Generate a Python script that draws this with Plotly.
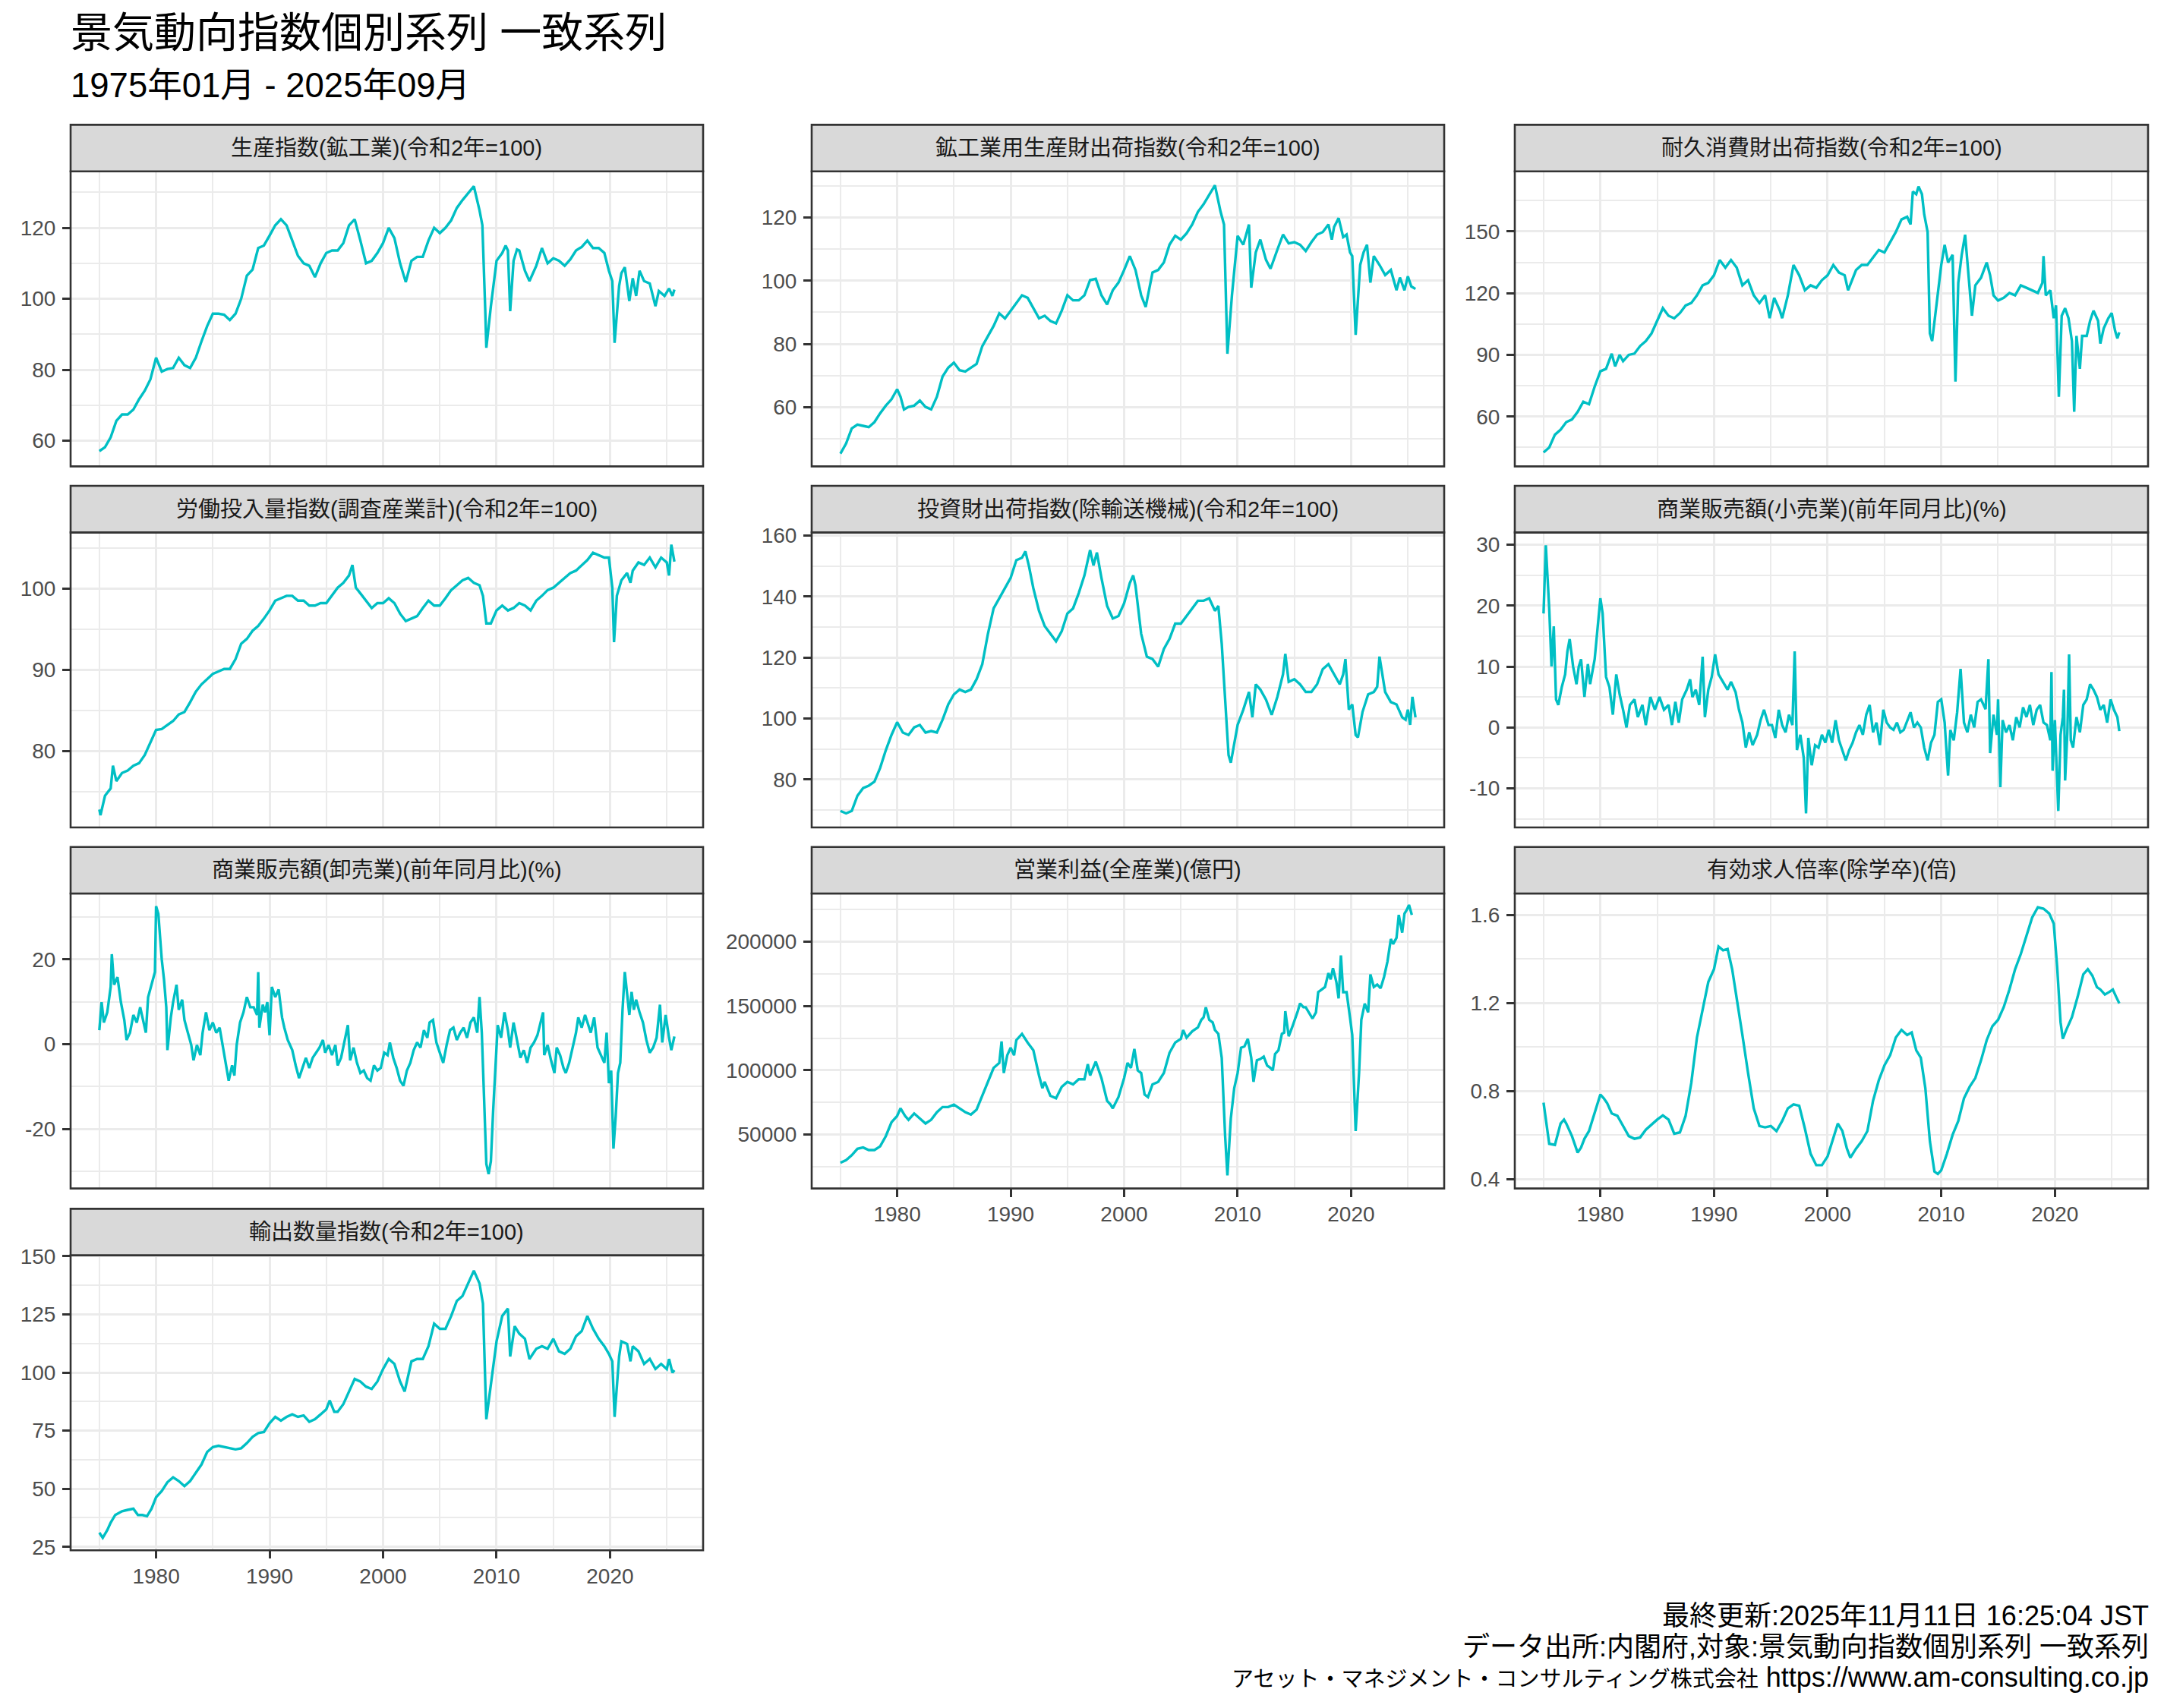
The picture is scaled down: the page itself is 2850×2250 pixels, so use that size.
import plotly.graph_objects as go

# ---------------- data ----------------
years_major = [1980, 1990, 2000, 2010, 2020]
years_major_labels = ["1980", "1990", "2000", "2010", "2020"]
years_minor = [1975, 1985, 1995, 2005, 2015, 2025]

panel_titles = [
    "生産指数(鉱工業)(令和2年=100)",
    "鉱工業用生産財出荷指数(令和2年=100)",
    "耐久消費財出荷指数(令和2年=100)",
    "労働投入量指数(調査産業計)(令和2年=100)",
    "投資財出荷指数(除輸送機械)(令和2年=100)",
    "商業販売額(小売業)(前年同月比)(%)",
    "商業販売額(卸売業)(前年同月比)(%)",
    "営業利益(全産業)(億円)",
    "有効求人倍率(除学卒)(倍)",
    "輸出数量指数(令和2年=100)",
]

prod_t = [1975.0,1975.5,1976.0,1976.5,1977.0,1977.5,1978.0,1978.5,1979.0,1979.5,
          1980.0,1980.5,1981.0,1981.5,1982.0,1982.5,1983.0,1983.5,1984.0,1984.5,
          1985.0,1985.5,1986.0,1986.5,1987.0,1987.5,1988.0,1988.5,1989.0,1989.5,
          1990.0,1990.5,1991.0,1991.5,1992.0,1992.5,1993.0,1993.5,1994.0,1994.5,
          1995.0,1995.5,1996.0,1996.5,1997.0,1997.5,1998.0,1998.5,1999.0,1999.5,
          2000.0,2000.5,2001.0,2001.5,2002.0,2002.5,2003.0,2003.5,2004.0,2004.5,
          2005.0,2005.5,2006.0,2006.5,2007.0,2007.5,2008.0,2008.5,
          2008.75,2009.0,2009.1,2009.5,
          2010.0,2010.5,2010.8,2011.0,2011.2,2011.5,2011.8,
          2012.0,2012.5,2012.9,2013.5,
          2014.0,2014.5,2015.0,2015.5,2016.0,2016.5,2017.0,2017.5,2018.0,2018.5,2019.0,2019.5,
          2019.9,2020.2,2020.4,2020.8,
          2021.0,2021.3,2021.7,2022.0,2022.3,2022.6,
          2023.0,2023.5,2024.0,2024.3,2024.8,2025.2,2025.5,2025.67]
prod_v = [57.1,58.2,61,65.6,67.4,67.4,68.8,71.7,74.1,77.3,
          83.4,79.5,80.2,80.5,83.4,81.3,80.5,83.4,88,92.3,
          95.8,95.8,95.5,94,95.8,100,106.5,108.2,114.3,115,
          117.8,120.7,122.4,120.7,116.4,112.1,110,109.3,106.1,110,
          112.9,113.6,113.6,115.7,120.7,122.4,116.4,110,110.7,112.9,
          115.7,120,117.1,110,104.7,110.7,111.8,111.8,116.4,120,
          118.5,120,122.1,125.6,127.8,129.9,131.7,124.9,
          120.7,97.2,86.2,97.9,
          110.7,112.9,115,113.6,96.5,110.7,113.9,
          113.6,107.9,105,109.3,
          114.3,110,111.4,110.7,109.3,111.1,113.6,114.6,116.4,114.3,114.3,112.9,
          107.9,105,87.6,103.6,
          107.2,108.9,99.4,105.8,100.8,107.9,
          105,104.3,97.9,102.2,100.8,102.9,100.8,102.6]

mat_t = [1975.0,1975.5,1976.0,1976.5,1977.0,1977.5,1978.0,1978.5,1979.0,1979.5,
         1980.0,1980.3,1980.6,1981.0,1981.5,1982.0,1982.5,1983.0,1983.5,1984.0,1984.5,
         1985.0,1985.5,1986.0,1986.5,1987.0,1987.5,1988.0,1988.5,1989.0,1989.5,
         1990.0,1990.5,1991.0,1991.5,1992.0,1992.5,1993.0,1993.5,1994.0,1994.5,
         1995.0,1995.5,1996.0,1996.5,1997.0,1997.5,1998.0,1998.5,1999.0,1999.5,
         2000.0,2000.5,2001.0,2001.5,2001.9,2002.5,2003.0,2003.5,2004.0,2004.5,
         2005.0,2005.5,2006.0,2006.5,2007.0,2007.5,2008.0,2008.5,2008.8,2009.1,2009.5,
         2010.0,2010.5,2011.0,2011.2,2011.6,2012.0,2012.5,2012.9,2013.5,2014.0,2014.5,
         2015.0,2015.5,2016.0,2016.5,2017.0,2017.5,2018.0,2018.3,2018.5,2018.9,2019.3,2019.6,2019.9,
         2020.1,2020.4,2020.8,2021.1,2021.4,2021.7,2022.0,2022.5,2023.0,2023.5,2024.0,2024.3,2024.7,
         2025.0,2025.3,2025.67]
mat_v = [45.3,48.5,53.3,54.5,54.1,53.7,55.3,58.1,60.5,62.5,
         65.7,63.3,59.3,60.1,60.5,62.1,60.1,59.3,63.3,69.7,72.5,
         74.1,71.7,71.3,72.5,73.7,79.3,82.5,85.7,89.7,88.1,
         90.5,92.9,95.4,94.6,91.3,88.1,88.9,87.3,86.5,90.5,
         95.4,93.8,93.8,95.4,100.2,100.6,95.4,92.5,97,99.4,
         103.4,107.8,103.4,95.4,91.7,102.6,103.4,105.8,111.4,114.2,
         113,115,117.8,121.8,124.2,127.4,130.2,121.8,117.8,76.9,95.4,
         114.2,111.4,117.8,97.8,109,113,106.6,103.8,109.8,114.6,111.8,
         112.2,111.4,109.4,112.2,114.6,115.4,117.8,113,117,119.8,113.8,114.6,109,
         107.8,82.9,105,109,111.4,99.4,107.8,105,101.8,103.4,97,101,97,
         101.4,98.2,97.4]

dur_t = [1975.0,1975.5,1976.0,1976.5,1977.0,1977.5,1978.0,1978.5,1979.0,1979.5,
         1980.0,1980.5,1981.0,1981.3,1981.7,1982.0,1982.5,1983.0,1983.5,1984.0,1984.5,
         1985.0,1985.5,1986.0,1986.5,1987.0,1987.5,1988.0,1988.5,1989.0,1989.5,
         1990.0,1990.5,1991.0,1991.5,1992.0,1992.5,1993.0,1993.5,1994.0,1994.5,1994.9,
         1995.3,1995.8,1996.0,1996.5,1997.0,1997.5,1998.0,1998.5,1999.0,1999.5,
         2000.0,2000.5,2001.0,2001.5,2001.8,2002.5,2003.0,2003.5,2004.0,2004.5,
         2005.0,2005.5,2006.0,2006.5,2007.0,2007.3,2007.5,2007.8,2008.0,2008.3,2008.5,2008.8,
         2009.0,2009.2,2009.5,2010.0,2010.3,2010.6,2011.0,2011.25,2011.5,2011.8,
         2012.1,2012.4,2012.7,2013.0,2013.5,2014.0,2014.3,2014.6,
         2015.0,2015.5,2016.0,2016.5,2017.0,2017.5,2018.0,2018.5,2018.9,2019.0,2019.2,2019.6,2019.9,
         2020.1,2020.35,2020.6,2020.9,2021.2,2021.5,2021.7,2021.9,2022.2,2022.4,2022.8,
         2023.1,2023.4,2023.8,2024.0,2024.3,2024.7,2025.0,2025.3,2025.5,2025.67]
dur_v = [42.6,45,51.2,53.6,57.3,58.6,62.3,67.2,66,74.6,
         82,83.2,90.6,84.4,90,86.9,90,90.6,94.3,96.7,100.4,
         106.6,112.7,109,107.8,110.3,114,115.2,118.9,123.8,125,
         128.7,136.1,132.4,136.1,132.4,123.8,126.3,118.9,115.2,118.9,107.8,
         117.7,111.5,107.8,118.9,133.7,128.7,121.4,123.8,122.6,126.3,
         128.7,133.7,130,128.7,121.4,131.2,133.7,133.7,137.4,141,
         139.8,144.7,149.7,155.8,157.1,153.4,169.4,168.1,171.8,168.1,158.3,149.7,
         100.4,96.7,111.5,133.7,143.5,134.9,138.6,77,125,138.6,
         148.4,128.7,109,123.8,127.5,134.9,128.7,118.9,
         116.4,117.7,120.1,118.9,123.8,122.6,121.4,120.1,125,138,118.9,121.4,107.8,
         114,69.6,109,112.7,107.8,96.7,62.3,99.2,83.2,99.2,99.2,
         106.6,111.5,106.6,95.5,102.9,107.8,110.3,101.7,98,101]

lab_t = [1975.0,1975.1,1975.5,1976.0,1976.2,1976.5,1977.0,1977.5,1978.0,1978.5,1979.0,1979.5,
         1980.0,1980.5,1981.0,1981.5,1982.0,1982.5,1983.0,1983.5,1984.0,1984.5,
         1985.0,1985.5,1986.0,1986.5,1987.0,1987.5,1988.0,1988.5,1989.0,1989.5,
         1990.0,1990.5,1991.0,1991.5,1992.0,1992.5,1993.0,1993.5,1994.0,1994.5,
         1995.0,1995.5,1996.0,1996.5,1997.0,1997.3,1997.6,1998.0,1998.5,1999.0,1999.5,
         2000.0,2000.5,2001.0,2001.5,2002.0,2002.5,2003.0,2003.5,2004.0,2004.5,
         2005.0,2005.5,2006.0,2006.5,2007.0,2007.5,2008.0,2008.5,2008.8,2009.1,2009.5,
         2010.0,2010.5,2011.0,2011.5,2012.0,2012.5,2013.0,2013.5,2014.0,2014.5,
         2015.0,2015.5,2016.0,2016.5,2017.0,2017.5,2018.0,2018.5,2019.0,2019.5,2019.9,
         2020.2,2020.35,2020.6,2021.0,2021.5,2021.8,2022.0,2022.5,2023.0,2023.5,2024.0,2024.5,
         2025.0,2025.2,2025.4,2025.67]
lab_v = [72.8,72.1,74.5,75.4,78.2,76.3,77.3,77.6,78.2,78.5,79.5,81,
         82.6,82.7,83.2,83.7,84.5,84.8,86,87.3,88.2,88.8,
         89.5,89.8,90.1,90.1,91.3,93.2,93.8,94.8,95.4,96.3,
         97.3,98.5,98.8,99.1,99.1,98.5,98.5,97.9,97.9,98.2,
         98.2,99.1,100.1,100.7,101.6,102.9,100.1,99.4,98.5,97.6,98.2,
         98.2,98.8,98.2,96.9,96,96.3,96.6,97.6,98.5,97.9,
         97.9,98.8,99.8,100.4,101,101.3,100.7,100.4,99.1,95.7,95.7,
         97.3,97.9,97.3,97.6,98.2,97.9,97.3,98.5,99.1,99.8,
         100.1,100.7,101.3,101.9,102.2,102.9,103.5,104.4,104.1,103.8,103.8,
         100.1,93.4,99.1,101,101.9,100.7,102.2,103.2,102.9,103.8,102.6,103.8,
         103.2,101.6,105.4,103.3]

inv_t = [1975.0,1975.5,1976.0,1976.5,1977.0,1977.5,1978.0,1978.5,1979.0,1979.5,
         1980.0,1980.5,1981.0,1981.5,1982.0,1982.5,1983.0,1983.5,1984.0,1984.5,
         1985.0,1985.5,1986.0,1986.5,1987.0,1987.5,1988.0,1988.5,1989.0,1989.5,
         1990.0,1990.5,1991.0,1991.3,1991.6,1992.0,1992.5,1993.0,1993.5,1994.0,1994.5,
         1995.0,1995.5,1996.0,1996.5,1997.0,1997.3,1997.6,1998.0,1998.5,1999.0,1999.5,
         2000.0,2000.5,2000.8,2001.0,2001.5,2002.0,2002.5,2003.0,2003.5,2004.0,2004.5,
         2005.0,2005.5,2006.0,2006.5,2007.0,2007.5,2008.0,2008.3,2008.6,2009.0,2009.2,2009.4,2009.7,
         2010.0,2010.5,2011.0,2011.3,2011.6,2012.0,2012.5,2013.0,2013.5,2014.0,2014.2,2014.5,
         2015.0,2015.5,2016.0,2016.5,2017.0,2017.5,2018.0,2018.5,2019.0,2019.3,2019.5,2019.8,
         2020.1,2020.4,2020.6,2021.0,2021.5,2022.0,2022.3,2022.5,2022.8,2023.0,2023.5,2024.0,2024.5,2024.8,
         2025.0,2025.2,2025.4,2025.67]
inv_v = [69.7,68.9,69.7,74.7,77.2,78,79.3,83.8,89.6,94.6,
         98.8,95.4,94.6,97.1,97.9,95.4,95.9,95.4,99.6,104.6,
         107.9,109.5,108.7,109.5,112.9,117.8,127.8,136.1,139.4,142.7,
         146.1,151.9,152.7,154.8,150.2,142.7,135.3,130.3,127.8,125.3,128.6,
         134.4,136.1,141.1,146.9,155.2,150.2,154.4,146.1,136.9,132.8,133.6,
         137.8,144.4,146.9,143.6,127.8,120.3,119.5,117,122.8,126.1,131.1,
         131.1,133.6,136.1,138.6,138.6,139.4,135.3,136.9,124.5,97.9,88,85.5,91.3,
         97.9,102.9,108.7,100.4,111.2,109.5,106.2,101.2,107.1,114.5,121.2,112,
         112.9,111.2,108.7,108.7,111.2,116.2,117.8,114.5,111.2,114.5,119.5,102.9,
         104.6,94.6,93.8,102.1,107.9,108.7,110.4,120.3,112.9,108.7,105.4,104.6,100.4,99.6,
         102.9,97.9,107.1,100.4]

ret_t = [1975.0,1975.2,1975.5,1975.7,1975.9,1976.1,1976.3,1976.6,1976.9,1977.1,1977.3,1977.6,1977.9,
         1978.1,1978.3,1978.6,1978.9,1979.1,1979.5,1979.7,
         1980.0,1980.2,1980.5,1980.8,1981.1,1981.4,1981.7,1982.0,1982.3,1982.6,1983.0,1983.3,1983.7,
         1984.0,1984.4,1984.8,
         1985.2,1985.6,1986.0,1986.3,1986.6,1986.9,1987.2,1987.6,1987.9,1988.1,1988.4,1988.7,1989.0,
         1989.2,1989.5,1989.8,
         1990.1,1990.4,1990.8,1991.2,1991.5,1991.9,1992.2,1992.5,1992.8,1993.1,1993.4,1993.8,1994.1,
         1994.4,1994.8,
         1995.1,1995.4,1995.7,1996.0,1996.3,1996.6,1996.9,1997.1,1997.3,1997.6,1997.9,1998.1,1998.3,
         1998.6,1998.9,1999.2,1999.5,1999.8,
         2000.1,2000.4,2000.7,2001.0,2001.3,2001.6,2001.9,2002.2,2002.5,2002.8,2003.1,2003.4,2003.7,
         2004.0,2004.3,2004.6,2004.9,
         2005.2,2005.5,2005.8,2006.1,2006.4,2006.7,2007.0,2007.3,2007.6,2007.9,2008.2,2008.5,2008.8,
         2009.1,2009.4,2009.7,
         2010.0,2010.3,2010.6,2010.8,2011.1,2011.4,2011.7,2012.0,2012.3,2012.6,2012.9,2013.2,2013.5,
         2013.9,2014.15,2014.3,2014.6,2014.9,
         2015.0,2015.2,2015.4,2015.7,2016.0,2016.3,2016.6,2016.9,2017.2,2017.5,2017.8,2018.1,2018.4,
         2018.7,2019.0,2019.3,2019.6,2019.7,2019.8,
         2020.0,2020.3,2020.5,2020.7,2020.8,2020.9,2021.1,2021.25,2021.4,2021.6,2021.9,2022.2,2022.5,
         2022.8,2023.1,2023.4,2023.7,2024.0,2024.3,2024.6,2024.9,2025.2,2025.5,2025.67]
ret_v = [18.7,29.9,19.5,10,16.6,4.6,3.7,6.6,8.7,12.5,14.5,10,7.1,
         10,11.2,5,10.4,7.1,11.2,15.4,
         21.2,18.7,8.3,6.6,2.1,8.7,5.4,2.9,0,3.7,4.6,1.7,3.7,
         0.4,5,2.9,
         5,2.9,3.7,0.4,4.2,0.8,4.6,6.2,7.9,5,6.2,3.7,11.6,
         1.7,6.2,8.3,
         12,8.7,7.5,6.2,7.5,5.8,2.9,0.8,-3.3,-0.8,-2.9,-1.2,1.2,
         2.9,0.4,
         0.4,-1.7,2.9,0.4,-0.8,2.1,0.4,12.5,-3.7,-1.2,-5,-14.1,-1.7,
         -6.2,-2.9,-3.3,-1.2,-2.5,
         -0.4,-2.5,1.2,-2.1,-3.7,-5.4,-3.7,-2.5,-0.8,0.4,-1.2,2.1,3.7,
         -0.8,0.8,-2.9,2.9,
         0.8,0,-0.4,0.8,-0.8,-0.4,1.2,2.5,0,0.8,0,-3.3,-5.4,
         -2.5,-1.2,4.2,
         4.6,0.8,-7.9,-0.4,-2.1,2.5,9.6,0.8,-0.8,2.1,0,4.2,4.6,
         3.0,11.2,-4.2,2.1,-1.2,
         4.6,-9.8,1.2,-0.8,0.4,-2.1,1.7,0,3.3,1.7,3.7,0.4,2.9,
         3.7,0.8,0.4,-2.1,9.1,-7.1,
         1.2,-13.7,-1.2,1.7,6.2,-8.7,-0.8,12,-2.1,-3.3,1.7,-0.8,3.7,
         4.6,7.1,6.2,5,2.9,3.7,0.8,4.6,2.9,1.7,-0.6]

whl_t = [1975.0,1975.2,1975.4,1975.7,1976.0,1976.1,1976.3,1976.6,1976.9,1977.2,1977.4,1977.7,1978.0,
         1978.3,1978.6,1978.9,1979.1,1979.3,1979.6,1979.9,
         1980.0,1980.2,1980.5,1980.7,1980.9,1981.0,1981.3,1981.5,1981.8,1982.0,1982.3,1982.5,1982.8,
         1983.1,1983.3,1983.6,1983.9,1984.1,1984.4,1984.7,
         1985.0,1985.3,1985.6,1985.9,1986.2,1986.4,1986.7,1986.9,1987.1,1987.4,1987.7,1988.0,1988.3,
         1988.6,1988.9,1989.0,1989.1,1989.4,1989.6,1989.8,
         1990.0,1990.2,1990.5,1990.8,1991.1,1991.3,1991.6,1992.0,1992.3,1992.6,1992.9,1993.2,1993.5,
         1993.8,1994.1,1994.4,1994.7,1994.9,
         1995.2,1995.5,1995.8,1996.0,1996.3,1996.6,1996.9,1997.1,1997.4,1997.7,1998.0,1998.3,1998.6,
         1998.9,1999.2,1999.5,1999.8,
         2000.1,2000.4,2000.6,2000.9,2001.2,2001.5,2001.8,2002.1,2002.4,2002.7,2003.0,2003.3,2003.6,
         2003.9,2004.1,2004.4,2004.7,
         2005.0,2005.3,2005.6,2005.9,2006.2,2006.5,2006.8,2007.1,2007.4,2007.7,2008.0,2008.3,2008.5,
         2008.7,2008.9,2009.1,2009.3,2009.5,2009.7,2009.9,
         2010.1,2010.4,2010.7,2011.0,2011.2,2011.5,2011.8,2012.1,2012.4,2012.7,2013.0,2013.3,2013.6,
         2013.9,2014.1,2014.2,2014.5,2014.8,
         2015.1,2015.3,2015.6,2015.9,2016.1,2016.4,2016.7,2017.0,2017.2,2017.5,2017.8,2018.0,2018.3,
         2018.6,2018.9,2019.2,2019.5,2019.7,2019.9,
         2020.1,2020.3,2020.5,2020.7,2020.9,2021.1,2021.3,2021.5,2021.7,2021.9,2022.1,2022.3,2022.6,
         2022.9,2023.2,2023.5,2023.8,2024.1,2024.4,2024.6,2024.9,2025.2,2025.4,2025.67]
whl_v = [3.3,9.9,5.1,7.5,13.5,21.2,14,15.8,9.9,5.7,1,2.7,6.9,
         5.1,8.7,5.1,2.7,11.1,14,17,
         32.5,30.7,20,15.2,8.7,-1.4,6.3,9.9,14,8.1,10.5,5.7,2.7,
         -0.2,-3.8,-0.2,-2.6,2.7,7.5,3.3,
         5.1,2.7,3.9,-0.8,-5,-8.6,-5,-7.4,-0.2,5.1,7.5,11.1,8.7,
         8.7,6.9,17,3.9,9.3,7.5,9.9,
         2.1,13.5,11.1,12.9,6.3,3.9,1,-1.4,-5,-8,-5.6,-3.2,-5.6,
         -3.2,-2,-0.8,1,-2,
         -0.2,-2.6,-0.2,-5,-3.2,0.4,4.5,-3.8,-0.8,-4.4,-6.8,-6.2,-8,
         -8.6,-5,-6.2,-5.6,
         -2,-2.6,0.4,-3.2,-5.6,-8.6,-9.8,-6.2,-4.4,-1.4,0.4,-0.8,3.3,
         1.5,5.1,5.7,0.4,
         -2,-4.4,-0.2,3.3,3.9,1,2.7,3.9,1.5,5.1,6.3,2.7,11.1,
         2.7,-12.7,-28.2,-30.6,-27.6,-15.7,-4.4,
         4.5,1.5,7.5,3.3,-0.8,5.1,1,-3.2,-1.4,-4.4,-0.8,0.4,2.1,
         5.1,7.5,-2.6,-0.2,-3.8,
         -6.8,-0.8,-2.6,-5.6,-6.8,-4.4,-0.8,2.7,6.3,3.9,6.9,5.1,2.7,
         6.3,-0.8,-2.6,-4.4,2.7,-9.2,
         -6.2,-24.6,-16.9,-6.8,-4.4,8.1,17,11.7,6.9,12.3,8.1,10.5,7.5,
         5.1,1,-2,-0.8,1.5,9.3,0.4,6.9,1.5,-1.4,1.8]

opi_t = [1975.0,1975.5,1976.0,1976.5,1977.0,1977.5,1978.0,1978.5,1979.0,1979.5,
         1980.0,1980.3,1980.7,1981.0,1981.5,1982.0,1982.5,1983.0,1983.5,1984.0,1984.5,
         1985.0,1985.5,1986.0,1986.5,1987.0,1987.5,1988.0,1988.5,1989.0,1989.2,1989.4,1989.7,
         1990.0,1990.3,1990.5,1991.0,1991.5,1992.0,1992.5,1992.8,1993.0,1993.5,1994.0,1994.5,
         1995.0,1995.5,1996.0,1996.5,1996.8,1997.0,1997.5,1998.0,1998.5,1998.8,1999.0,1999.5,
         2000.0,2000.3,2000.6,2000.9,2001.2,2001.5,2001.8,2002.1,2002.5,2003.0,2003.5,2004.0,2004.5,
         2005.0,2005.2,2005.5,2006.0,2006.5,2006.8,2007.0,2007.2,2007.5,2007.8,2008.0,2008.3,2008.6,
         2008.9,2009.1,2009.4,2009.7,
         2010.0,2010.3,2010.6,2010.9,2011.2,2011.4,2011.7,2012.0,2012.3,2012.6,2012.9,2013.1,2013.3,
         2013.6,2013.9,2014.1,2014.2,2014.5,2014.8,
         2015.0,2015.3,2015.5,2015.8,2016.0,2016.3,2016.6,2016.9,2017.1,2017.4,2017.7,2018.0,2018.2,
         2018.4,2018.7,2018.9,2019.1,2019.3,2019.6,2019.9,
         2020.1,2020.4,2020.7,2020.9,2021.2,2021.5,2021.7,2022.0,2022.3,2022.6,2022.9,2023.2,2023.5,
         2023.7,2024.0,2024.2,2024.5,2024.7,2024.9,2025.1,2025.35]
opi_v = [27950,29900,33800,38800,39800,37800,37800,40700,48600,59400,
         64400,70300,64400,61400,66300,62400,58500,61400,67300,71300,71300,
         73200,70300,67300,65400,69300,80100,90900,101800,105700,122400,97800,111600,
         117500,111600,123400,128300,121500,115600,95900,86000,90900,80100,78100,87000,
         90900,89000,92900,92900,104700,95900,106700,93900,76200,73200,70300,79100,
         93900,105700,101800,116500,99800,97800,81100,79100,89000,90900,97800,113600,121500,
         124400,131300,125400,130300,133300,139200,141100,149000,139200,137200,131300,128300,109600,
         48600,18100,62400,86000,
         97800,117500,118500,124400,109600,90900,107700,108700,110600,103700,101800,99800,112600,
         115600,128300,129300,146000,126400,133300,
         138200,146000,152000,149000,149000,145000,140200,145000,160800,162800,164800,175600,170700,
         179500,168700,155900,189400,160800,160800,141100,
         127400,52600,97800,139200,151900,145000,174600,164800,166700,163800,172600,184500,202200,
         198200,203100,220900,207100,221900,224800,228700,220900]

job_t = [1975.0,1975.2,1975.5,1976.0,1976.5,1976.8,1977.0,1977.5,1978.0,1978.3,1978.6,1979.0,1979.5,
         1980.0,1980.3,1980.6,1981.0,1981.5,1982.0,1982.5,1983.0,1983.5,1984.0,1984.5,
         1985.0,1985.5,1986.0,1986.5,1987.0,1987.5,1988.0,1988.5,1989.0,1989.5,
         1990.0,1990.4,1990.8,1991.2,1991.6,1992.0,1992.5,1993.0,1993.5,1994.0,1994.5,
         1995.0,1995.5,1996.0,1996.5,1997.0,1997.5,1998.0,1998.5,1999.0,1999.5,
         2000.0,2000.5,2000.9,2001.3,2001.7,2002.0,2002.5,2003.0,2003.5,2004.0,2004.5,
         2005.0,2005.5,2006.0,2006.5,2007.0,2007.4,2007.8,2008.2,2008.6,2009.0,2009.4,2009.7,
         2010.0,2010.5,2011.0,2011.5,2012.0,2012.5,2013.0,2013.5,2014.0,2014.5,
         2015.0,2015.5,2016.0,2016.5,2017.0,2017.5,2018.0,2018.5,2019.0,2019.5,2019.9,
         2020.2,2020.5,2020.7,2021.0,2021.5,2022.0,2022.5,2022.9,2023.3,2023.7,2024.0,2024.4,2024.8,
         2025.1,2025.4,2025.67]
job_v = [0.748,0.665,0.561,0.556,0.653,0.671,0.653,0.596,0.521,0.544,0.584,0.619,0.699,
         0.785,0.768,0.745,0.699,0.688,0.642,0.596,0.584,0.590,0.625,0.648,
         0.671,0.690,0.671,0.607,0.613,0.688,0.837,1.044,1.170,1.296,
         1.354,1.457,1.440,1.446,1.354,1.228,1.055,0.883,0.722,0.642,0.636,
         0.642,0.619,0.665,0.722,0.740,0.734,0.630,0.516,0.464,0.464,
         0.504,0.584,0.653,0.619,0.539,0.498,0.539,0.573,0.619,0.757,0.849,
         0.917,0.963,1.044,1.078,1.055,1.067,0.986,0.952,0.814,0.573,0.435,0.424,
         0.441,0.516,0.602,0.665,0.768,0.820,0.860,0.940,1.032,1.095,
         1.124,1.182,1.262,1.354,1.423,1.503,1.589,1.635,1.629,1.607,1.561,
         1.365,1.113,1.038,1.078,1.136,1.228,1.331,1.354,1.325,1.273,1.262,1.239,1.251,
         1.262,1.228,1.199]

exp_t = [1975.0,1975.3,1975.7,1976.0,1976.4,1977.0,1977.5,1978.0,1978.4,1978.8,1979.2,1979.6,
         1980.0,1980.5,1981.0,1981.5,1982.0,1982.5,1983.0,1983.5,1984.0,1984.5,
         1985.0,1985.5,1986.0,1986.5,1987.0,1987.5,1988.0,1988.5,1989.0,1989.5,
         1990.0,1990.5,1991.0,1991.5,1992.0,1992.5,1993.0,1993.5,1994.0,1994.5,
         1995.0,1995.3,1995.7,1996.0,1996.5,1997.0,1997.5,1998.0,1998.5,1999.0,1999.5,
         2000.0,2000.5,2001.0,2001.5,2001.9,2002.5,2003.0,2003.5,2004.0,2004.5,
         2005.0,2005.5,2006.0,2006.5,2007.0,2007.5,2008.0,2008.5,2008.8,2009.1,2009.5,
         2010.0,2010.5,2011.0,2011.2,2011.6,2012.0,2012.5,2012.9,2013.5,2014.0,2014.5,
         2015.0,2015.5,2016.0,2016.5,2017.0,2017.5,2018.0,2018.5,2019.0,2019.5,2019.9,
         2020.2,2020.4,2020.8,2021.0,2021.5,2021.8,2022.0,2022.5,2023.0,2023.5,2024.0,2024.5,
         2025.0,2025.2,2025.5,2025.67]
exp_v = [31.1,28.9,32.2,35.4,38.7,40.3,40.9,41.4,38.7,38.7,38.2,41.4,
         46.3,49,52.8,54.9,53.3,51.1,53.3,57.1,60.4,65.8,
         67.9,68.5,67.9,67.4,66.9,67.4,69.6,72.3,73.9,74.4,
         78.2,80.9,79.3,80.9,82,80.9,81.5,78.8,79.9,82,
         84.2,88,83.1,83.1,86.4,91.8,97.2,96.1,93.9,92.9,96.1,
         101.5,105.8,103.7,96.1,91.8,104.8,105.8,105.8,111.3,121,
         118.8,118.8,124.3,130.8,132.9,138.3,143.8,138.3,129.7,79.9,95,
         113.4,124.3,127.5,106.9,119.9,116.7,114.5,105.8,110.2,111.3,110.2,
         114.5,109.1,108,110.2,115.6,117.8,124.3,118.8,114.5,111.3,108,
         104.8,80.9,106.9,113.4,112.3,104.8,111.3,109.1,103.7,105.8,101.5,103.7,
         101.5,105.8,99.9,101]

# y tick values / labels per panel
prod_ticks, prod_labels, prod_minor = [60, 80, 100, 120], ["60", "80", "100", "120"], [70, 90, 110, 130]
mat_ticks, mat_labels, mat_minor = [60, 80, 100, 120], ["60", "80", "100", "120"], [50, 70, 90, 110, 130]
dur_ticks, dur_labels, dur_minor = [60, 90, 120, 150], ["60", "90", "120", "150"], [45, 75, 105, 135, 165]
lab_ticks, lab_labels, lab_minor = [80, 90, 100], ["80", "90", "100"], [75, 85, 95, 105]
inv_ticks, inv_labels, inv_minor = [80, 100, 120, 140, 160], ["80", "100", "120", "140", "160"], [70, 90, 110, 130, 150]
ret_ticks, ret_labels, ret_minor = [-10, 0, 10, 20, 30], ["-10", "0", "10", "20", "30"], [-15, -5, 5, 15, 25]
whl_ticks, whl_labels, whl_minor = [-20, 0, 20], ["-20", "0", "20"], [-30, -10, 10, 30]
opi_ticks = [50000, 100000, 150000, 200000]
opi_labels = ["50000", "100000", "150000", "200000"]
opi_minor = [25000, 75000, 125000, 175000, 225000]
job_ticks, job_labels, job_minor = [0.4, 0.8, 1.2, 1.6], ["0.4", "0.8", "1.2", "1.6"], [0.6, 1.0, 1.4]
exp_ticks, exp_labels, exp_minor = [25, 50, 75, 100, 125, 150], ["25", "50", "75", "100", "125", "150"], [37.5, 62.5, 87.5, 112.5, 137.5]

title_text = "景気動向指数個別系列 一致系列"
subtitle_text = "1975年01月 - 2025年09月"
caption_line1 = "最終更新:2025年11月11日 16:25:04 JST"
caption_line2 = "データ出所:内閣府,対象:景気動向指数個別系列 一致系列"
caption_line3_company = "アセット・マネジメント・コンサルティング株式会社"
caption_line3_url = "https://www.am-consulting.co.jp"

# ---------------- layout / styling ----------------
W, H = 2850, 2250
FONT = "Liberation Sans, Noto Sans CJK JP, sans-serif"
LINE_COLOR = "#00BFC4"
GRID = "#EBEBEB"
DARK = "#333333"
AXIS_TXT = "#4D4D4D"

COL_PX = [(85, 918), (1061, 1894), (1987, 2821)]
STRIP_TOPS = [144, 625, 1106, 1588]
STRIP_PX = 62
PLOT_PX = 393
X_RANGE = [1972.47, 2028.2]

series = [
    (prod_t, prod_v, [52.8, 135.9], prod_ticks, prod_labels, prod_minor, 0, 0, False),
    (mat_t, mat_v, [41.3, 134.6], mat_ticks, mat_labels, mat_minor, 0, 1, False),
    (dur_t, dur_v, [35.8, 179.2], dur_ticks, dur_labels, dur_minor, 0, 2, False),
    (lab_t, lab_v, [70.6, 106.9], lab_ticks, lab_labels, lab_minor, 1, 0, False),
    (inv_t, inv_v, [64.3, 161.0], inv_ticks, inv_labels, inv_minor, 1, 1, False),
    (ret_t, ret_v, [-16.4, 32.0], ret_ticks, ret_labels, ret_minor, 1, 2, False),
    (whl_t, whl_v, [-34.0, 35.5], whl_ticks, whl_labels, whl_minor, 2, 0, False),
    (opi_t, opi_v, [7870, 237600], opi_ticks, opi_labels, opi_minor, 2, 1, True),
    (job_t, job_v, [0.358, 1.698], job_ticks, job_labels, job_minor, 2, 2, True),
    (exp_t, exp_v, [23.5, 150.4], exp_ticks, exp_labels, exp_minor, 3, 0, True),
]


def fx(px):
    return px / W


def fy(py):
    return 1 - py / H


fig = go.Figure()
shapes = []
annotations = []

for i, (t, v, yr, yt, yl, ym, r, c, showx) in enumerate(series):
    assert len(t) == len(v), (i, len(t), len(v))
    n = i + 1
    sfx = "" if n == 1 else str(n)
    x0, x1 = COL_PX[c]
    s0 = STRIP_TOPS[r]
    y0 = s0 + STRIP_PX
    y1 = y0 + PLOT_PX
    fig.add_trace(go.Scatter(
        x=t, y=v, mode="lines",
        line=dict(color=LINE_COLOR, width=3.4),
        xaxis="x" + sfx, yaxis="y" + sfx, showlegend=False, hoverinfo="skip"))
    fig.layout["xaxis" + sfx] = dict(
        domain=[fx(x0), fx(x1)], anchor="y" + sfx, range=X_RANGE,
        tickmode="array", tickvals=years_major, ticktext=years_major_labels,
        showgrid=True, gridcolor=GRID, gridwidth=3.2,
        minor=dict(tickmode="array", tickvals=years_minor, showgrid=True,
                   gridcolor=GRID, gridwidth=1.6, ticks=""),
        ticks="outside" if showx else "", ticklen=10, tickwidth=3, tickcolor=DARK,
        showticklabels=showx, ticklabelstandoff=-1,
        tickfont=dict(family=FONT, size=28, color=AXIS_TXT),
        zeroline=False, showline=False, fixedrange=True)
    fig.layout["yaxis" + sfx] = dict(
        domain=[fy(y1), fy(y0)], anchor="x" + sfx, range=yr,
        tickmode="array", tickvals=yt, ticktext=yl,
        showgrid=True, gridcolor=GRID, gridwidth=3.2,
        minor=dict(tickmode="array", tickvals=ym, showgrid=True,
                   gridcolor=GRID, gridwidth=1.6, ticks=""),
        ticks="outside", ticklen=10, tickwidth=3, tickcolor=DARK,
        ticklabelstandoff=3,
        tickfont=dict(family=FONT, size=28, color=AXIS_TXT),
        zeroline=False, showline=False, fixedrange=True)
    # panel border
    shapes.append(dict(type="rect", xref="paper", yref="paper",
                       x0=fx(x0), x1=fx(x1), y0=fy(y1), y1=fy(y0),
                       line=dict(color=DARK, width=2.6), fillcolor="rgba(0,0,0,0)",
                       layer="above"))
    # strip
    shapes.append(dict(type="rect", xref="paper", yref="paper",
                       x0=fx(x0), x1=fx(x1), y0=fy(y0), y1=fy(s0),
                       line=dict(color=DARK, width=2.6), fillcolor="#D9D9D9",
                       layer="above"))
    annotations.append(dict(text=panel_titles[i], xref="paper", yref="paper",
                            x=fx((x0 + x1) / 2), y=fy(s0 + STRIP_PX / 2),
                            xanchor="center", yanchor="middle", showarrow=False,
                            font=dict(family=FONT, size=29, color="#1A1A1A")))

annotations.append(dict(text=title_text, xref="paper", yref="paper",
                        x=fx(83), y=fy(21), xanchor="left", yanchor="middle",
                        showarrow=False, font=dict(family=FONT, size=55, color="#000000")))
annotations.append(dict(text=subtitle_text, xref="paper", yref="paper",
                        x=fx(83), y=fy(92), xanchor="left", yanchor="middle",
                        showarrow=False, font=dict(family=FONT, size=45.5, color="#000000")))

cap_font = dict(family=FONT, size=36, color="#000000")
annotations.append(dict(text=caption_line1, xref="paper", yref="paper",
                        x=fx(2824), y=fy(2130), xanchor="right", yanchor="middle",
                        showarrow=False, font=cap_font))
annotations.append(dict(text=caption_line2, xref="paper", yref="paper",
                        x=fx(2824), y=fy(2172), xanchor="right", yanchor="middle",
                        showarrow=False, font=cap_font))
annotations.append(dict(
    text='<span style="font-size:29px">' + caption_line3_company + '</span> ' + caption_line3_url,
    xref="paper", yref="paper", x=fx(2824), y=fy(2212), xanchor="right", yanchor="middle",
    showarrow=False, font=cap_font))

fig.update_layout(
    width=W, height=H, margin=dict(l=0, r=0, t=0, b=0),
    paper_bgcolor="white", plot_bgcolor="white",
    showlegend=False, shapes=shapes, annotations=annotations,
    font=dict(family=FONT))

fig.write_html("out.html")
